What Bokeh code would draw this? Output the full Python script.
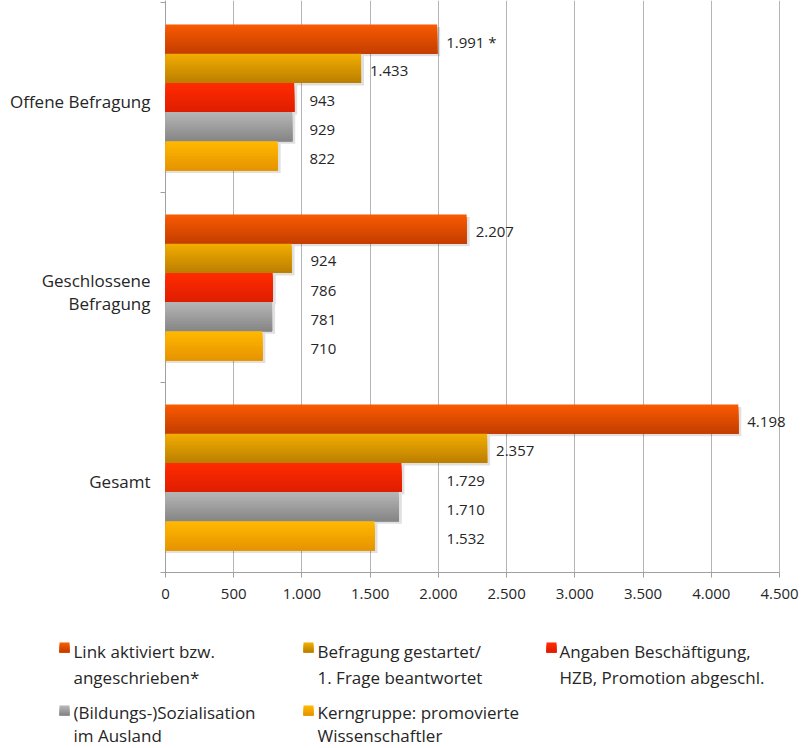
import numpy as np
from bokeh.plotting import figure
from bokeh.models import Range1d, FixedTicker, ColumnDataSource, LabelSet
from bokeh.layouts import column
from bokeh.embed import file_html
from bokeh.resources import INLINE
from bokeh.core.properties import value

# ---------------- data ----------------
categories = ["Offene Befragung", "Geschlossene Befragung", "Gesamt"]
category_labels = ["Offene Befragung", "Geschlossene\nBefragung", "Gesamt"]
series_names = ["Link aktiviert bzw. angeschrieben*",
                "Befragung gestartet/ 1. Frage beantwortet",
                "Angaben Beschäftigung, HZB, Promotion abgeschl.",
                "(Bildungs-)Sozialisation im Ausland",
                "Kerngruppe: promovierte Wissenschaftler"]
legend_lines = [["Link aktiviert bzw.", " angeschrieben*"],
                ["Befragung gestartet/", "1. Frage beantwortet"],
                ["Angaben Beschäftigung,", "HZB, Promotion abgeschl."],
                ["(Bildungs-)Sozialisation", "im Ausland"],
                ["Kerngruppe: promovierte", "Wissenschaftler"]]
link_values = [1991, 2207, 4198]
started_values = [1433, 924, 2357]
details_values = [943, 786, 1729]
abroad_values = [929, 781, 1710]
core_values = [822, 710, 1532]
link_notes = [" *", "", ""]
tick_values = [0, 500, 1000, 1500, 2000, 2500, 3000, 3500, 4000, 4500]

series_values = [link_values, started_values, details_values, abroad_values, core_values]

# ---------------- style ----------------
FONT = "Open Sans"
TEXT_COLOR = "#262626"
AXIS_COLOR = "#a0a0a0"
grad_top = ["#F75A00", "#F0AC00", "#FF2B00", "#B4B4B4", "#FFB700"]
grad_bot = ["#C63E00", "#BD8000", "#DF1E00", "#878787", "#E69500"]
label_floor = [1055, 1063, 2060]   # minimum anchor of value labels per group
X_MAX = 4500
PLOT_PX = 614          # pixels from 0 to X_MAX
LEFT = 165             # pixel position of value 0
W = 800
FRAME_H = 572
BAND_PX = 190
px_x = X_MAX / PLOT_PX
px_y = 1.0 / BAND_PX
bar_h = 29.2 * px_y
label_pad = 9 * px_x
y_top = FRAME_H / BAND_PX


def hex2rgb(h):
    h = h.lstrip("#")
    return np.array([int(h[i:i + 2], 16) for i in (0, 2, 4)], dtype=float)


def lerp_colors(c0, c1, n):
    a, b = hex2rgb(c0), hex2rgb(c1)
    out = []
    for k in range(n):
        t = k / (n - 1)
        c = a + (b - a) * t
        out.append("#%02x%02x%02x" % tuple(int(round(v)) for v in c))
    return out


p = figure(width=W, height=FRAME_H + 40, frame_width=W, frame_height=FRAME_H,
           output_backend="svg", toolbar_location=None,
           x_range=Range1d(-LEFT * px_x, (W - LEFT) * px_x), y_range=Range1d(0, y_top),
           min_border_left=0, min_border_right=0, min_border_top=0,
           min_border_bottom=40, title=None)
p.outline_line_color = None
p.background_fill_color = "white"
p.border_fill_color = "white"
p.yaxis.visible = False

# grid
p.ygrid.grid_line_color = None
p.xgrid.ticker = FixedTicker(ticks=tick_values)
p.xgrid.grid_line_color = "#b5b5b5"
p.xgrid.grid_line_width = 1

# x axis
p.xaxis.ticker = FixedTicker(ticks=tick_values)
p.xaxis.bounds = (-5 * px_x, tick_values[-1])
p.xaxis.major_label_overrides = {t: f"{t:,}".replace(",", ".") for t in tick_values}
p.xaxis.axis_line_color = AXIS_COLOR
p.xaxis.major_tick_line_color = AXIS_COLOR
p.xaxis.major_tick_out = 5
p.xaxis.major_tick_in = 0
p.xaxis.minor_tick_line_color = None
p.xaxis.major_label_standoff = 11
p.xaxis.major_label_text_font = FONT
p.xaxis.major_label_text_font_size = "15px"
p.xaxis.major_label_text_color = TEXT_COLOR

ncat = len(categories)
cat_y = [ncat - i - 0.5 for i in range(ncat)]

# category axis line and boundary ticks
p.segment(x0=[0], y0=[0], x1=[0], y1=[y_top], line_color=AXIS_COLOR, line_width=1)
bounds_y = list(range(1, ncat + 1))
p.segment(x0=[-5 * px_x] * len(bounds_y), y0=bounds_y, x1=[0] * len(bounds_y),
          y1=bounds_y, line_color=AXIS_COLOR, line_width=1)
p.text(x=[-15 * px_x] * ncat, y=[cy - 4 * px_y for cy in cat_y], text=category_labels,
       text_align="right", text_baseline="middle", text_font=value(FONT),
       text_font_size="17px", text_color=TEXT_COLOR, text_line_height=1.0)

# shadows
sh_y, sh_r = [], []
for j, vals in enumerate(series_values):
    for i, v in enumerate(vals):
        sh_y.append(cat_y[i] + (2 - j) * bar_h - 2.5 * px_y)
        sh_r.append(v + 3 * px_x)
p.hbar(y=sh_y, left=0, right=sh_r, height=bar_h, fill_color="black",
       fill_alpha=0.12, line_color=None)

# gradient bars (nested slices: each slice reaches from its top to the bar bottom)
NS = 12
for j, vals in enumerate(series_values):
    cols = lerp_colors(grad_top[j], grad_bot[j], NS)
    ys, hs, rs, cs = [], [], [], []
    for i, v in enumerate(vals):
        top = cat_y[i] + (2 - j) * bar_h + bar_h / 2
        bottom = top - bar_h
        for k in range(NS):
            tk = top - k * bar_h / NS
            ys.append((tk + bottom) / 2)
            hs.append(tk - bottom)
            rs.append(v)
            cs.append(cols[k])
    p.hbar(y=ys, left=0, right=rs, height=hs, fill_color=cs, line_color=None)

# value labels
lx, ly, lt = [], [], []
for j, vals in enumerate(series_values):
    for i, v in enumerate(vals):
        lx.append(max(v + label_pad, label_floor[i]))
        ly.append(cat_y[i] + (2 - j) * bar_h - 3 * px_y)
        txt = f"{v:,}".replace(",", ".")
        if j == 0:
            txt += link_notes[i]
        lt.append(txt)
src = ColumnDataSource(dict(x=lx, y=ly, text=lt))
p.add_layout(LabelSet(x="x", y="y", text="text", source=src, text_align="left",
                      text_baseline="middle", text_font=value(FONT),
                      text_font_size="15px", text_color=TEXT_COLOR))

# ---------------- legend figure ----------------
LH = 134
lg = figure(width=W, height=LH, frame_width=W, frame_height=LH,
            output_backend="svg", toolbar_location=None,
            x_range=Range1d(0, W), y_range=Range1d(LH, 0),
            min_border=0, min_border_left=0, min_border_right=0,
            min_border_top=0, min_border_bottom=0, title=None)
lg.xaxis.visible = False
lg.yaxis.visible = False
lg.outline_line_color = None
lg.xgrid.visible = False
lg.ygrid.visible = False

col_x = [64, 308, 551]
text_x = [73, 317, 559]
row_marker_y = [35, 98]
row_mid = [[39, 65], [100, 123]]
MS = 10
NL = 5
for s in range(len(series_names)):
    r, c = divmod(s, 3)
    mx, my = col_x[c], row_marker_y[r]
    cols = lerp_colors(grad_top[s], grad_bot[s], NL)
    for k in range(NL):
        tk = my - MS / 2 + k * MS / NL
        bot = my + MS / 2
        lg.rect(x=[mx], y=[(tk + bot) / 2], width=MS, height=bot - tk,
                fill_color=cols[k], line_color=None)
    for li, line in enumerate(legend_lines[s]):
        lg.text(x=[text_x[c]], y=[row_mid[r][li]], text=[line],
                text_align="left", text_baseline="middle",
                text_font=value(FONT), text_font_size="17px", text_color=TEXT_COLOR)

layout = column(p, lg, spacing=0)
open("out.html", "w").write(file_html(layout, INLINE))
